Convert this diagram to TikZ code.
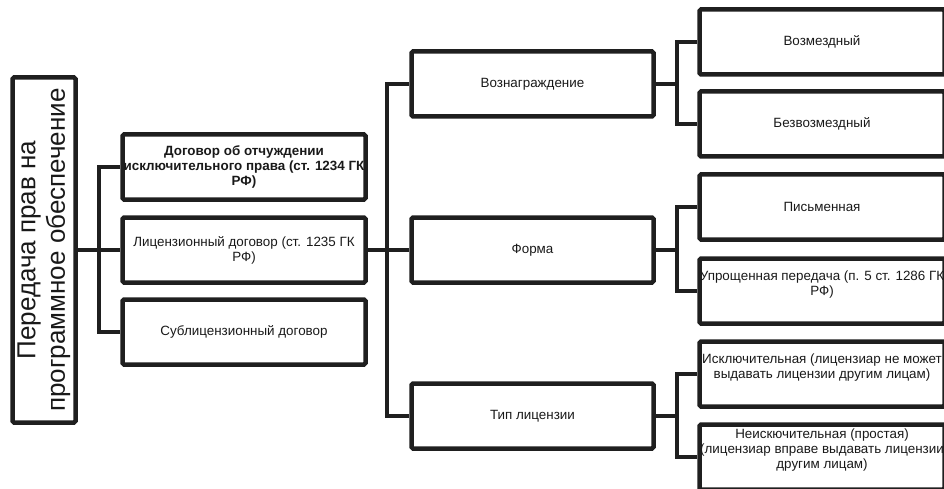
\documentclass[tikz,border=0pt]{standalone}
\usepackage{fontspec}
\setmainfont{Liberation Sans}
\tikzset{
  box/.style={draw=black!88, line width=4.5pt, rounded corners=1.5pt, inner sep=0pt,
    minimum width=243pt, minimum height=65pt, align=center, text=black!90,
    font=\fontsize{13.4pt}{15pt}\selectfont},
  raised/.style={text depth=16pt},
  link/.style={draw=black!88, line width=4pt},
}
\begin{document}
\begin{tikzpicture}[x=1pt,y=-1pt]
\useasboundingbox (0,0) rectangle (944,489);
\clip (0,0) rectangle (944,489);

\node (root) at (44,250) [box, rotate=90, minimum width=345pt, minimum height=63pt,
  font=\fontsize{26pt}{29.5pt}\selectfont] {Передача прав на\\программное обеспечение};

\node (a1) at (244,167) [box, font=\bfseries\fontsize{13.4pt}{15pt}\selectfont] {Договор об отчуждении\\исключительного права (ст. 1234 ГК\\РФ)};
\node (a2) at (244,250) [box] {Лицензионный договор (ст. 1235 ГК\\РФ)};
\node (a3) at (244,332) [box] {Сублицензионный договор};

\node (b1) at (532.5,84) [box, minimum width=242pt] {Вознаграждение};
\node (b2) at (532.5,250) [box, minimum width=242pt] {Форма};
\node (b3) at (532.5,416) [box, minimum width=242pt] {Тип лицензии};

\node (c1) at (822,42) [box, minimum width=245pt] {Возмездный};
\node (c2) at (822,124) [box, minimum width=245pt] {Безвозмездный};
\node (c3) at (822,207) [box, minimum width=245pt] {Письменная};
\node (c4) at (822,291) [box, raised, minimum width=245pt] {Упрощенная передача (п. 5 ст. 1286 ГК\\РФ)};
\node (c5) at (822,374) [box, raised, minimum width=245pt] {Исключительная (лицензиар не может\\выдавать лицензии другим лицам)};
\node (c6) at (822,457) [box, raised, minimum width=245pt] {Неискючительная (простая)\\(лицензиар вправе выдавать лицензии\\другим лицам)};

\coordinate (j1) at (99,250);
\coordinate (j2) at (387,250);
\coordinate (j3) at (677,84);
\coordinate (j4) at (677,250);
\coordinate (j5) at (677,416);

\draw [link] (root.south) -- (j1);
\draw [link] (a1.west) -| (j1);
\draw [link] (a2.west) -- (j1);
\draw [link] (a3.west) -| (j1);

\draw [link] (a2.east) -- (j2);
\draw [link] (b1.west) -| (j2);
\draw [link] (b2.west) -- (j2);
\draw [link] (b3.west) -| (j2);

\draw [link] (b1.east) -- (j3);
\draw [link] (c1.west) -| (j3);
\draw [link] (c2.west) -| (j3);
\draw [link] (b2.east) -- (j4);
\draw [link] (c3.west) -| (j4);
\draw [link] (c4.west) -| (j4);
\draw [link] (b3.east) -- (j5);
\draw [link] (c5.west) -| (j5);
\draw [link] (c6.west) -| (j5);
\end{tikzpicture}
\end{document}
